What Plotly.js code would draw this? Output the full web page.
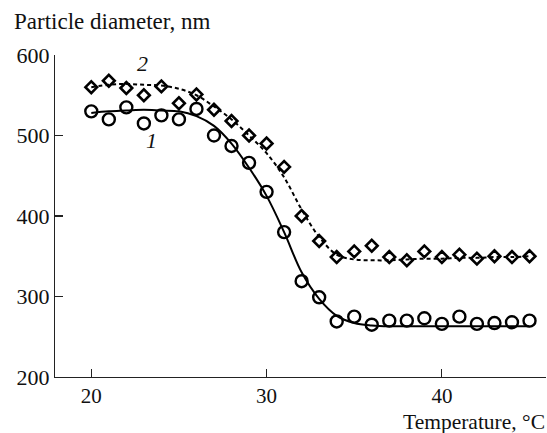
<!DOCTYPE html>
<html>
<head>
<meta charset="utf-8">
<script src="https://cdn.plot.ly/plotly-3.0.1.min.js"></script>
<style>html,body{margin:0;padding:0;background:#fff;}#chart{width:547px;height:433px;}</style>
</head>
<body>
<div id="chart"></div>
<script>
// Temperature, °C
var temps = [20,21,22,23,24,25,26,27,28,29,30,31,32,33,34,35,36,37,38,39,40,41,42,43,44,45];
// Series 1 (circles), nm
var diam1 = [530,520,535,515,525,520,533,500,487,466,430,380,319,299,269,275,265,270,270,273,266,275,266,267,268,270];
// Series 2 (diamonds), nm
var diam2 = [560,568,559,550,561,540,551,532,518,500,490,461,400,369,349,356,363,349,345,356,349,352,347,350,349,350];
// Fitted curves
var fitT = [20,21,22,23,24,25,26,27,28,29,30,31,32,33,34,35,36,37,38,39,40,41,42,43,44,45];
var fit1 = [528,530,531,532,531,530,524,512,490,460,425,380,330,297,276,267,264,263,263,263,263,263,263,263,263,263];
var fit2 = [560,563,564,563,562,558,550,536,520,500,478,448,408,374,352,346,345,345,346,347,347,348,348,349,349,350];
var yTicks = [200,300,400,500,600];
var xTicks = [20,30,40];

var serif = "Liberation Serif, Times New Roman, serif";
var traces = [
  {x: fitT, y: fit1, mode: 'lines', line: {color: '#000', width: 2, shape: 'spline', smoothing: 1}, hoverinfo: 'skip'},
  {x: fitT, y: fit2, mode: 'lines', line: {color: '#000', width: 2, dash: '4px,3px', shape: 'spline', smoothing: 1}, hoverinfo: 'skip'},
  {x: temps, y: diam1, mode: 'markers', marker: {symbol: 'circle-open', size: 12, color: '#000', line: {width: 2.4, color: '#000'}}},
  {x: temps, y: diam2, mode: 'markers', marker: {symbol: 'diamond-open', size: 9, color: '#000', line: {width: 2.6, color: '#000'}}}
];
var layout = {
  width: 547, height: 433,
  margin: {l: 55, r: 1, t: 55, b: 56},
  showlegend: false,
  paper_bgcolor: '#fff', plot_bgcolor: '#fff',
  font: {family: serif, color: '#111', size: 22},
  xaxis: {
    range: [17.93, 45.94], tickvals: xTicks, ticktext: xTicks.map(String),
    ticks: 'inside', ticklen: 8, tickwidth: 1.2, tickcolor: '#222',
    showline: true, linecolor: '#222', linewidth: 1.2, showgrid: false, zeroline: false,
    tickfont: {family: serif, size: 21, color: '#111'}
  },
  yaxis: {
    range: [200, 600], tickvals: yTicks, ticktext: yTicks.map(String),
    ticks: 'inside', ticklen: 8, tickwidth: 1.2, tickcolor: '#222',
    showline: true, linecolor: '#222', linewidth: 1.2, showgrid: false, zeroline: false,
    tickfont: {family: serif, size: 22, color: '#111'}
  },
  annotations: [
    {text: 'Particle diameter, nm', xref: 'paper', yref: 'paper', x: -0.088, y: 1.1025, xanchor: 'left', yanchor: 'middle', showarrow: false, font: {family: serif, size: 23, color: '#111'}},
    {text: 'Temperature, °C', xref: 'paper', yref: 'paper', x: 1.0, y: -0.1382, xanchor: 'right', yanchor: 'middle', borderpad: 0, showarrow: false, font: {family: serif, size: 21.5, color: '#111'}},
    {text: '<i>2</i>', x: 22.9, y: 590, xref: 'x', yref: 'y', showarrow: false, font: {family: serif, size: 22, color: '#111'}},
    {text: '<i>1</i>', x: 23.46, y: 494, xref: 'x', yref: 'y', showarrow: false, font: {family: serif, size: 22, color: '#111'}}
  ]
};
Plotly.newPlot('chart', traces, layout, {displayModeBar: false, staticPlot: true});
</script>
</body>
</html>
